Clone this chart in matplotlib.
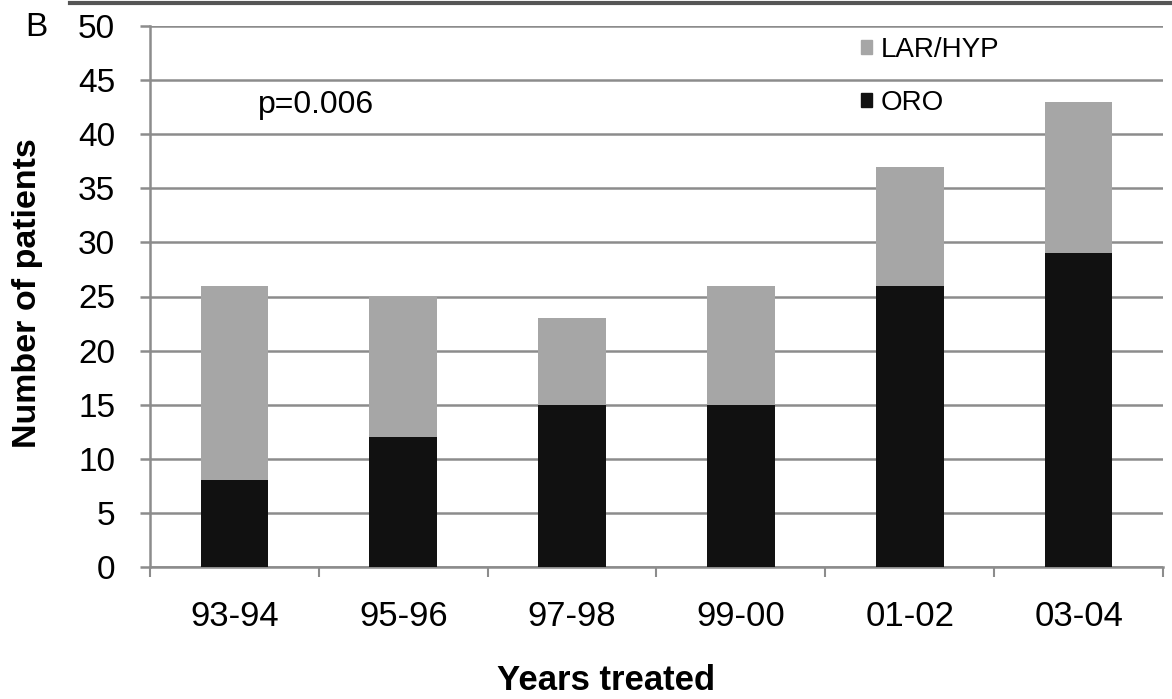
import matplotlib.pyplot as plt
from matplotlib.lines import Line2D
from matplotlib.patches import Patch
import numpy as np

plt.rcParams['font.family'] = ['Liberation Sans', 'DejaVu Sans']

# === DATA ===
years = ["93-94", "95-96", "97-98", "99-00", "01-02", "03-04"]
oro = [8, 12, 15, 15, 26, 29]
lar_hyp = [18, 13, 8, 11, 11, 14]

GRAY = "#a6a6a6"
BLACK = "#111111"
GRID = "#8c8c8c"

fig = plt.figure(figsize=(11.72, 6.99), dpi=100)
ax = fig.add_axes([150 / 1172, 1 - 567 / 699, (1163 - 150) / 1172, (567 - 26) / 699])

x = np.arange(len(years))
ax.bar(x, oro, width=0.4, color=BLACK, zorder=3)
ax.bar(x, lar_hyp, width=0.4, bottom=oro, color=GRAY, zorder=3)

ax.set_xlim(-0.5, len(years) - 0.5)
ax.set_ylim(0, 50)
ax.set_yticks(range(0, 51, 5))
ax.yaxis.grid(True, color=GRID, linewidth=1.8, zorder=0)

# categories labelled at centers, ticks on the boundaries
ax.set_xticks(x)
ax.set_xticklabels(years, fontsize=25)
ax.tick_params(axis='x', which='major', length=0, pad=24)
ax.set_xticks(np.arange(-0.5, len(years)), minor=True)
ax.tick_params(axis='x', which='minor', length=7, width=1.5, color=GRID, direction='out')
ax.tick_params(axis='y', length=7, width=1.8, color=GRID, labelsize=24, pad=18)

for s in ['top', 'right']:
    ax.spines[s].set_visible(False)
for s in ['left', 'bottom']:
    ax.spines[s].set_color(GRID)
    ax.spines[s].set_linewidth(1.8)

ax.set_ylabel("Number of patients", fontsize=24.5, fontweight='bold')
ax.yaxis.set_label_coords((28 - 150) / 1013, (567 - 293) / 541)
ax.set_xlabel("Years treated", fontsize=25, fontweight='bold')
ax.xaxis.set_label_coords((606 - 150) / 1013, -(680 - 567) / 541)
ax.xaxis.label.set_va('center')
ax.yaxis.label.set_va('center')

fig.text(258 / 1172, 1 - 105 / 699, "p=0.006", fontsize=23, va='center')

handles = [Patch(color=GRAY), Patch(color=BLACK)]
leg = ax.legend(handles, ["LAR/HYP", "ORO"], loc='upper left',
                bbox_to_anchor=((850 - 150) / 1013, 1.0), frameon=False,
                fontsize=20, handlelength=0.4, handleheight=0.4,
                handletextpad=0.3, labelspacing=0.95, borderaxespad=0)

fig.text(36 / 1172, 1 - 27 / 699, "B", fontsize=24, ha='center', va='center')
fig.add_artist(Line2D([70 / 1172, 1], [1 - 3 / 699, 1 - 3 / 699], color="#555555", linewidth=3))

fig.savefig("out.png", dpi=100)
